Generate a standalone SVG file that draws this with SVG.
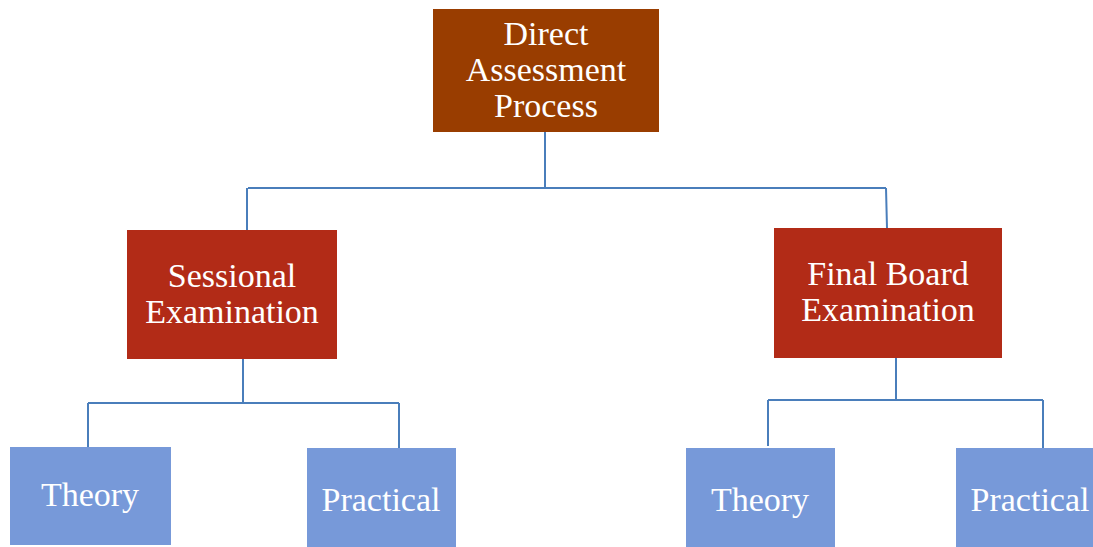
<svg xmlns="http://www.w3.org/2000/svg" width="1093" height="547" viewBox="0 0 1093 547">
<style>
.t{font-family:"Liberation Serif","Times New Roman",serif;font-size:34px;fill:#ffffff;text-anchor:middle}
.top{fill:#993D00}
.mid{fill:#B22B17}
.leaf{fill:#7799D9}
.c{fill:none;stroke:#4A7EBB;stroke-width:2}
</style>
<rect width="1093" height="547" fill="#ffffff"/>
<g id="connectors">
<path class="c" d="M545,132 V188 M248,188 H886 M247,188 V230 M886,188 L887,228"/>
<path class="c" d="M243,359 V403 M88,403 H399 M88,403 V447 M399,403 V448"/>
<path class="c" d="M896,358 V400 M768,400 H1043 M768,400 V446 M1043,400 V448"/>
</g>
<g id="node-direct">
<rect class="top" x="433" y="9" width="226" height="123"/>
<text class="t" x="546" y="45">Direct</text>
<text class="t" x="546" y="81">Assessment</text>
<text class="t" x="546" y="117">Process</text>
</g>
<g id="node-sessional">
<rect class="mid" x="127" y="230" width="210" height="129"/>
<text class="t" x="232" y="287">Sessional</text>
<text class="t" x="232" y="323">Examination</text>
</g>
<g id="node-final">
<rect class="mid" x="774" y="228" width="228" height="130"/>
<text class="t" x="888" y="285">Final Board</text>
<text class="t" x="888" y="321">Examination</text>
</g>
<g id="node-theory-1">
<rect class="leaf" x="10" y="447" width="161" height="98"/>
<text class="t" x="90" y="505.5">Theory</text>
</g>
<g id="node-practical-1">
<rect class="leaf" x="307" y="448" width="149" height="99"/>
<text class="t" x="381" y="511">Practical</text>
</g>
<g id="node-theory-2">
<rect class="leaf" x="686" y="448" width="149" height="99"/>
<text class="t" x="760" y="511">Theory</text>
</g>
<g id="node-practical-2">
<rect class="leaf" x="956" y="448" width="137" height="99"/>
<text class="t" x="1030" y="511">Practical</text>
</g>
</svg>
